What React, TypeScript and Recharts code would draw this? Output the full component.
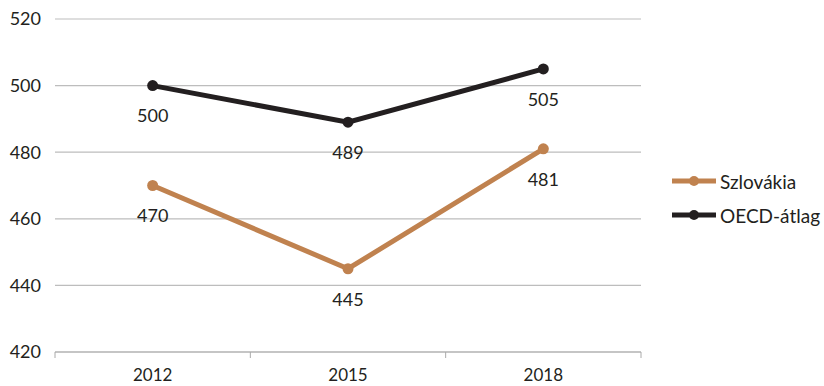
import { CartesianGrid, Legend, LabelList, Line, LineChart, XAxis, YAxis } from 'recharts';

const years = ['2012', '2015', '2018'];
const szlovakia = [470, 445, 481];
const oecd = [500, 489, 505];
const yTicks = [420, 440, 460, 480, 500, 520];

const data = years.map((y, i) => ({ i, year: y, szlovakia: szlovakia[i], oecd: oecd[i] }));

const ORANGE = '#c0824f';
const DARK = '#231f20';
const FONT = 'Lato, "Open Sans", sans-serif';

function LegendContent() {
  const items = [
    { name: 'Szlovákia', color: ORANGE },
    { name: 'OECD-átlag', color: DARK },
  ];
  return (
    <div>
      {items.map((it) => (
        <div key={it.name} style={{ display: 'flex', alignItems: 'center', height: 34 }}>
          <svg width={46} height={14} style={{ marginRight: 3 }}>
            <line x1={1} y1={7} x2={45} y2={7} stroke={it.color} strokeWidth={5} />
            <circle cx={23} cy={7} r={5} fill={it.color} />
          </svg>
          <span style={{ fontFamily: FONT, fontSize: 19, color: DARK }}>{it.name}</span>
        </div>
      ))}
    </div>
  );
}

export default function App() {
  return (
    <div style={{ position: 'absolute', left: 0, top: 0, background: '#fff' }}>
      <LineChart
        width={824}
        height={386}
        data={data}
        margin={{ top: 19, right: 30, bottom: 4, left: 0 }}
      >
        <CartesianGrid vertical={false} stroke="#bdbdbd" strokeWidth={1.2} xAxisId="years" />
        <XAxis
          xAxisId="ticks"
          dataKey="i"
          type="number"
          domain={[-0.5, 2.5]}
          ticks={[-0.5, 0.5, 1.5, 2.5]}
          axisLine={{ stroke: '#bdbdbd', strokeWidth: 1.5 }}
          tickLine={{ stroke: '#aaa' }}
          tickSize={6}
          tickFormatter={() => ''}
          height={1}
        />
        <XAxis
          xAxisId="years"
          dataKey="i"
          type="number"
          domain={[-0.5, 2.5]}
          ticks={[0, 1, 2]}
          tickFormatter={(v: number) => years[v]}
          axisLine={false}
          tickLine={false}
          tick={{ fill: DARK, fontSize: 17, fontFamily: FONT }}
          tickMargin={10}
          height={29}
        />
        <YAxis
          domain={[420, 520]}
          ticks={yTicks}
          axisLine={false}
          tickLine={false}
          width={55}
          tickMargin={8}
          tick={{ fill: DARK, fontSize: 18, fontFamily: FONT }}
        />
        <Legend
          layout="vertical"
          align="right"
          verticalAlign="top"
          content={<LegendContent />}
          wrapperStyle={{ left: 671, top: 164, width: 153 }}
        />
        <Line
          xAxisId="years"
          dataKey="szlovakia"
          name="Szlovákia"
          stroke={ORANGE}
          strokeWidth={5}
          dot={{ r: 5.5, fill: ORANGE, stroke: ORANGE, strokeWidth: 0 }}
          isAnimationActive={false}
        >
          <LabelList dataKey="szlovakia" position="bottom" offset={24} fill={DARK} fontSize={18} fontFamily={FONT} />
        </Line>
        <Line
          xAxisId="years"
          dataKey="oecd"
          name="OECD-átlag"
          stroke={DARK}
          strokeWidth={5}
          dot={{ r: 5.5, fill: DARK, stroke: DARK, strokeWidth: 0 }}
          isAnimationActive={false}
        >
          <LabelList dataKey="oecd" position="bottom" offset={24} fill={DARK} fontSize={18} fontFamily={FONT} />
        </Line>
      </LineChart>
    </div>
  );
}
